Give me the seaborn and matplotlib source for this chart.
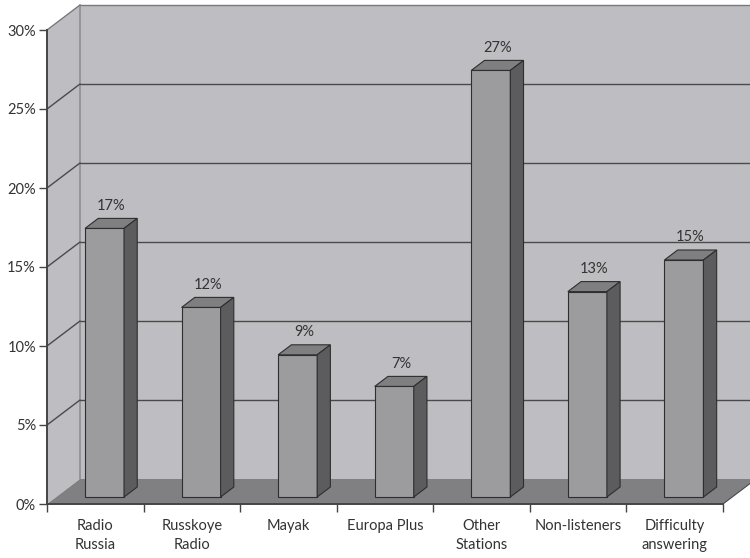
import matplotlib
matplotlib.use("Agg")
import matplotlib.pyplot as plt
from matplotlib.patches import Polygon
import seaborn as sns
import pandas as pd

categories = ["Radio\nRussia", "Russkoye\nRadio", "Mayak", "Europa Plus",
              "Other\nStations", "Non-listeners", "Difficulty\nanswering"]
values = [17, 12, 9, 7, 27, 13, 15]
yticks = [0, 5, 10, 15, 20, 25, 30]
ytick_labels = ["0%", "5%", "10%", "15%", "20%", "25%", "30%"]

sns.set_theme(style="white")
plt.rcParams['font.family'] = ['Lato', 'DejaVu Sans']

W, H = 750, 558
fig = plt.figure(figsize=(W / 100, H / 100), dpi=100)
left_px, right_px, top_px, bot_px = 47, 723, 30, 504
ax = fig.add_axes([left_px / W, 1 - bot_px / H, (right_px - left_px) / W, (bot_px - top_px) / H])
ax.set_facecolor('none')

n = len(categories)
xmin, xmax, ymax = -0.5, n - 0.5, 30
px_x = (right_px - left_px) / n
px_y = (bot_px - top_px) / ymax
DX = 33 / px_x
DY = 25 / px_y
XR = xmin + (W + 10 - left_px) / px_x

wall_c = "#bebec2"
floor_c = "#808083"
grid_c = "#4a4a4c"
text_c = "#333333"

# back wall
ax.add_patch(Polygon([(xmin + DX, DY), (XR, DY), (XR, ymax + DY), (xmin + DX, ymax + DY)],
                     closed=True, facecolor=wall_c, edgecolor='none', zorder=0, clip_on=False))
# left wall
ax.add_patch(Polygon([(xmin, 0), (xmin + DX, DY), (xmin + DX, ymax + DY), (xmin, ymax)],
                     closed=True, facecolor=wall_c, edgecolor='none', zorder=0, clip_on=False))
# floor
ax.add_patch(Polygon([(xmin, 0), (xmax, 0), (xmax + DX, DY), (XR, DY), (XR, DY), (xmin + DX, DY)],
                     closed=True, facecolor=floor_c, edgecolor='none', zorder=0.5, clip_on=False))
# corner line
ax.plot([xmin + DX, xmin + DX], [DY, ymax + DY], color="#8e8e92", lw=1.2, zorder=0.3, clip_on=False)
# grid lines
for k in yticks[1:]:
    c = "#7a7a7e" if k == ymax else grid_c
    ax.plot([xmin + DX, XR], [k + DY, k + DY], color=c, lw=1.0, zorder=0.4, clip_on=False)
    ax.plot([xmin, xmin + DX], [k, k + DY], color=c, lw=1.0, zorder=0.4, clip_on=False)
ax.plot([xmax, xmax + DX], [0, DY], color=grid_c, lw=0.8, zorder=0.6, clip_on=False)

# bars
df = pd.DataFrame({"cat": categories, "val": values})
bw = 0.404
sns.barplot(data=df, x="cat", y="val", ax=ax, width=bw, color="#9c9c9e",
            saturation=1, edgecolor="#2e2e2e", linewidth=0.8, zorder=2)

f0, d = 0.28, 0.40
for p, v in zip(ax.patches[-n:], values):
    x0 = p.get_x() + f0 * DX
    base = f0 * DY
    p.set_x(x0)
    p.set_y(base)
    p.set_height(v)
    x1 = x0 + p.get_width()
    top = base + v
    ddx, ddy = d * DX, d * DY
    ax.add_patch(Polygon([(x0, top), (x1, top), (x1 + ddx, top + ddy), (x0 + ddx, top + ddy)],
                         closed=True, facecolor="#7f7f82", edgecolor="#2e2e2e", lw=0.8, zorder=2.1, clip_on=False))
    ax.add_patch(Polygon([(x1, base), (x1 + ddx, base + ddy), (x1 + ddx, top + ddy), (x1, top)],
                         closed=True, facecolor="#5c5c5f", edgecolor="#2e2e2e", lw=0.8, zorder=2.1, clip_on=False))
    ax.annotate(f"{v}%", xy=((x0 + x1) / 2 + ddx / 2, top + ddy), xytext=(0, 4),
                textcoords="offset points", ha="center", va="bottom",
                fontsize=10.5, color=text_c, zorder=3, annotation_clip=False)

ax.set_xlim(xmin, xmax)
ax.set_ylim(0, ymax)
ax.set_xlabel("")
ax.set_ylabel("")

for s in ["top", "right"]:
    ax.spines[s].set_visible(False)
for s in ["left", "bottom"]:
    ax.spines[s].set_color("#444446")
    ax.spines[s].set_linewidth(1.4)
    ax.spines[s].set_zorder(5)

ax.set_yticks(yticks)
ax.set_yticklabels(ytick_labels)
ax.tick_params(axis='y', direction='out', length=6, width=1, color="#444446",
               labelsize=10.5, labelcolor=text_c, pad=2, left=True)

ax.set_xticks([i - 0.5 for i in range(n + 1)])
ax.set_xticklabels([""] * (n + 1))
ax.set_xticks(range(n), minor=True)
ax.set_xticklabels(categories, minor=True, linespacing=1.45)
ax.tick_params(axis='x', which='major', direction='out', length=6, width=1, color="#444446", bottom=True)
ax.tick_params(axis='x', which='minor', length=0, labelsize=10.5, labelcolor=text_c, pad=11)
for t in ax.get_xticklabels(minor=True):
    t.set_verticalalignment('top')

fig.savefig("out.png", dpi=100, facecolor="white")
